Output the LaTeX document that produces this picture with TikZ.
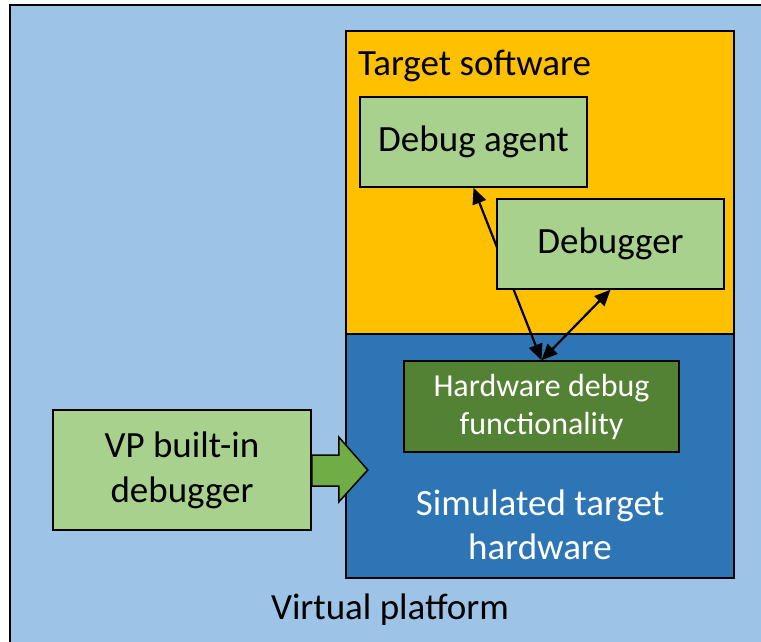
\documentclass[tikz,border=0pt]{standalone}
\usepackage{fontspec}
\setmainfont{Carlito}
\usetikzlibrary{arrows.meta,calc}
\definecolor{vpblue}{HTML}{9DC3E6}
\definecolor{swyellow}{HTML}{FFC000}
\definecolor{hwblue}{HTML}{2E75B6}
\definecolor{lightgreen}{HTML}{A9D18E}
\definecolor{darkgreen}{HTML}{548235}
\definecolor{arrowgreen}{HTML}{70AD47}
\begin{document}
\begin{tikzpicture}[x=1pt,y=-1pt]
            \tikzstyle{box}=[draw=black,line width=1.5pt]
            \tikzstyle{block}=[box,fill=lightgreen,inner sep=0pt,align=center,font=\fontsize{37}{45}\selectfont]
            \tikzstyle{link}=[line width=2.2pt,{Triangle[length=16pt,width=14pt]}-{Triangle[length=16pt,width=14pt]}]
            \useasboundingbox (0,0) rectangle (761,642);
            % virtual platform
            \draw[box,fill=vpblue] (10,5) rectangle (790,680);
            \node[font=\fontsize{37}{45}\selectfont] (vptext) at (390,610) {Virtual platform};
            % target software and hardware
            \node[box,fill=swyellow,minimum width=388,minimum height=303] (software) at (540,182.5) {};
            \node[anchor=west,inner sep=0pt,font=\fontsize{37}{45}\selectfont] (swtext) at (358,66) {Target software};
            \node[box,fill=hwblue,minimum width=388,minimum height=244] (hardware) at (540,456) {};
            \node[text=white,align=center,font=\fontsize{37}{44}\selectfont] (hwtext) at (540,525) {Simulated target\\hardware};
            % debug blocks
            \node[block,minimum width=227,minimum height=90] (agent) at (473.5,142) {Debug agent};
            \node[block,fill=darkgreen,text=white,minimum width=275,minimum height=91,font=\fontsize{32}{38}\selectfont] (hwdebug) at (541.5,406.5) {Hardware debug\\functionality};
            \draw[link] (agent.south) -- (hwdebug.north);
            \node[block,minimum width=227,minimum height=90] (debugger) at (610.5,244) {Debugger};
            \draw[link] (debugger.south) -- (hwdebug.north);
            % built-in debugger
            \node[block,minimum width=258,minimum height=120] (vpdbg) at (182,470) {VP built-in\\debugger};
            \draw[box,fill=arrowgreen] ($(vpdbg.east)+(0,-15)$) -- ++(27,0) -- ++(0,-18) -- ++(29,33)
                -- ++(-29,32) -- ++(0,-16) -- ++(-27,0) -- cycle;
        \end{tikzpicture}
\end{document}
